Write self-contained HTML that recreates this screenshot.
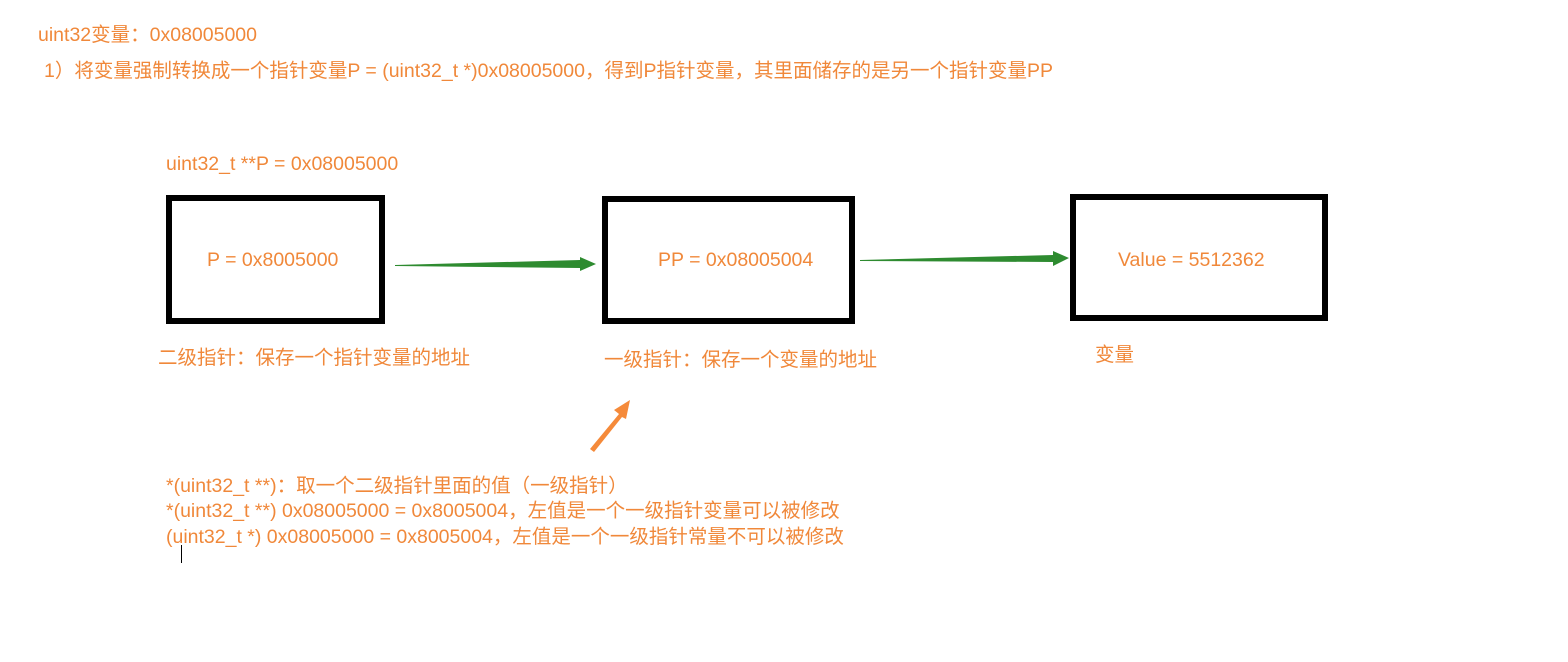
<!DOCTYPE html>
<html><head><meta charset="utf-8"><style>
body{margin:0;width:1568px;height:662px;background:#fff;position:relative;overflow:hidden;font-family:"Liberation Sans","Noto Sans CJK SC",sans-serif;color:#f0883a;font-size:19.5px}
.t{position:absolute;white-space:nowrap;line-height:22px}
.b{position:absolute;border:6px solid #000;box-sizing:border-box}
</style></head><body>
<div class="t" style="left:38px;top:24px">uint32变量：0x08005000</div>
<div class="t" style="left:44px;top:60px">1）将变量强制转换成一个指针变量P = (uint32_t *)0x08005000，得到P指针变量，其里面储存的是另一个指针变量PP</div>
<div class="t" style="left:166px;top:153px">uint32_t **P = 0x08005000</div>
<div class="b" style="left:166px;top:195px;width:219px;height:129px"></div>
<div class="b" style="left:602px;top:196px;width:253px;height:128px"></div>
<div class="b" style="left:1070px;top:194px;width:258px;height:127px"></div>
<div class="t" style="left:207px;top:249px">P = 0x8005000</div>
<div class="t" style="left:658px;top:249px">PP = 0x08005004</div>
<div class="t" style="left:1118px;top:249px">Value = 5512362</div>
<div class="t" style="left:158px;top:347px">二级指针：保存一个指针变量的地址</div>
<div class="t" style="left:604px;top:349px">一级指针：保存一个变量的地址</div>
<div class="t" style="left:1095px;top:344px">变量</div>
<div class="t" style="left:166px;top:475px">*(uint32_t **)：取一个二级指针里面的值（一级指针）</div>
<div class="t" style="left:166px;top:500px">*(uint32_t **) 0x08005000 = 0x8005004，左值是一个一级指针变量可以被修改</div>
<div class="t" style="left:166px;top:526px">(uint32_t *) 0x08005000 = 0x8005004，左值是一个一级指针常量不可以被修改</div>
<div style="position:absolute;left:181px;top:545px;width:1px;height:18px;background:#000"></div>
<svg width="1568" height="662" style="position:absolute;left:0;top:0">
<polygon points="395,265 580,260 580,257 596,264 580,271 580,268 395,266" fill="#2e8b30"/>
<polygon points="860,260 1053,255 1053,251 1069,258 1053,266 1053,262 860,261" fill="#2e8b30"/>
<polygon points="590,449 619,414 614,410 630,400 626,419 622,417 594,452" fill="#f58a3a"/>
</svg>
</body></html>
